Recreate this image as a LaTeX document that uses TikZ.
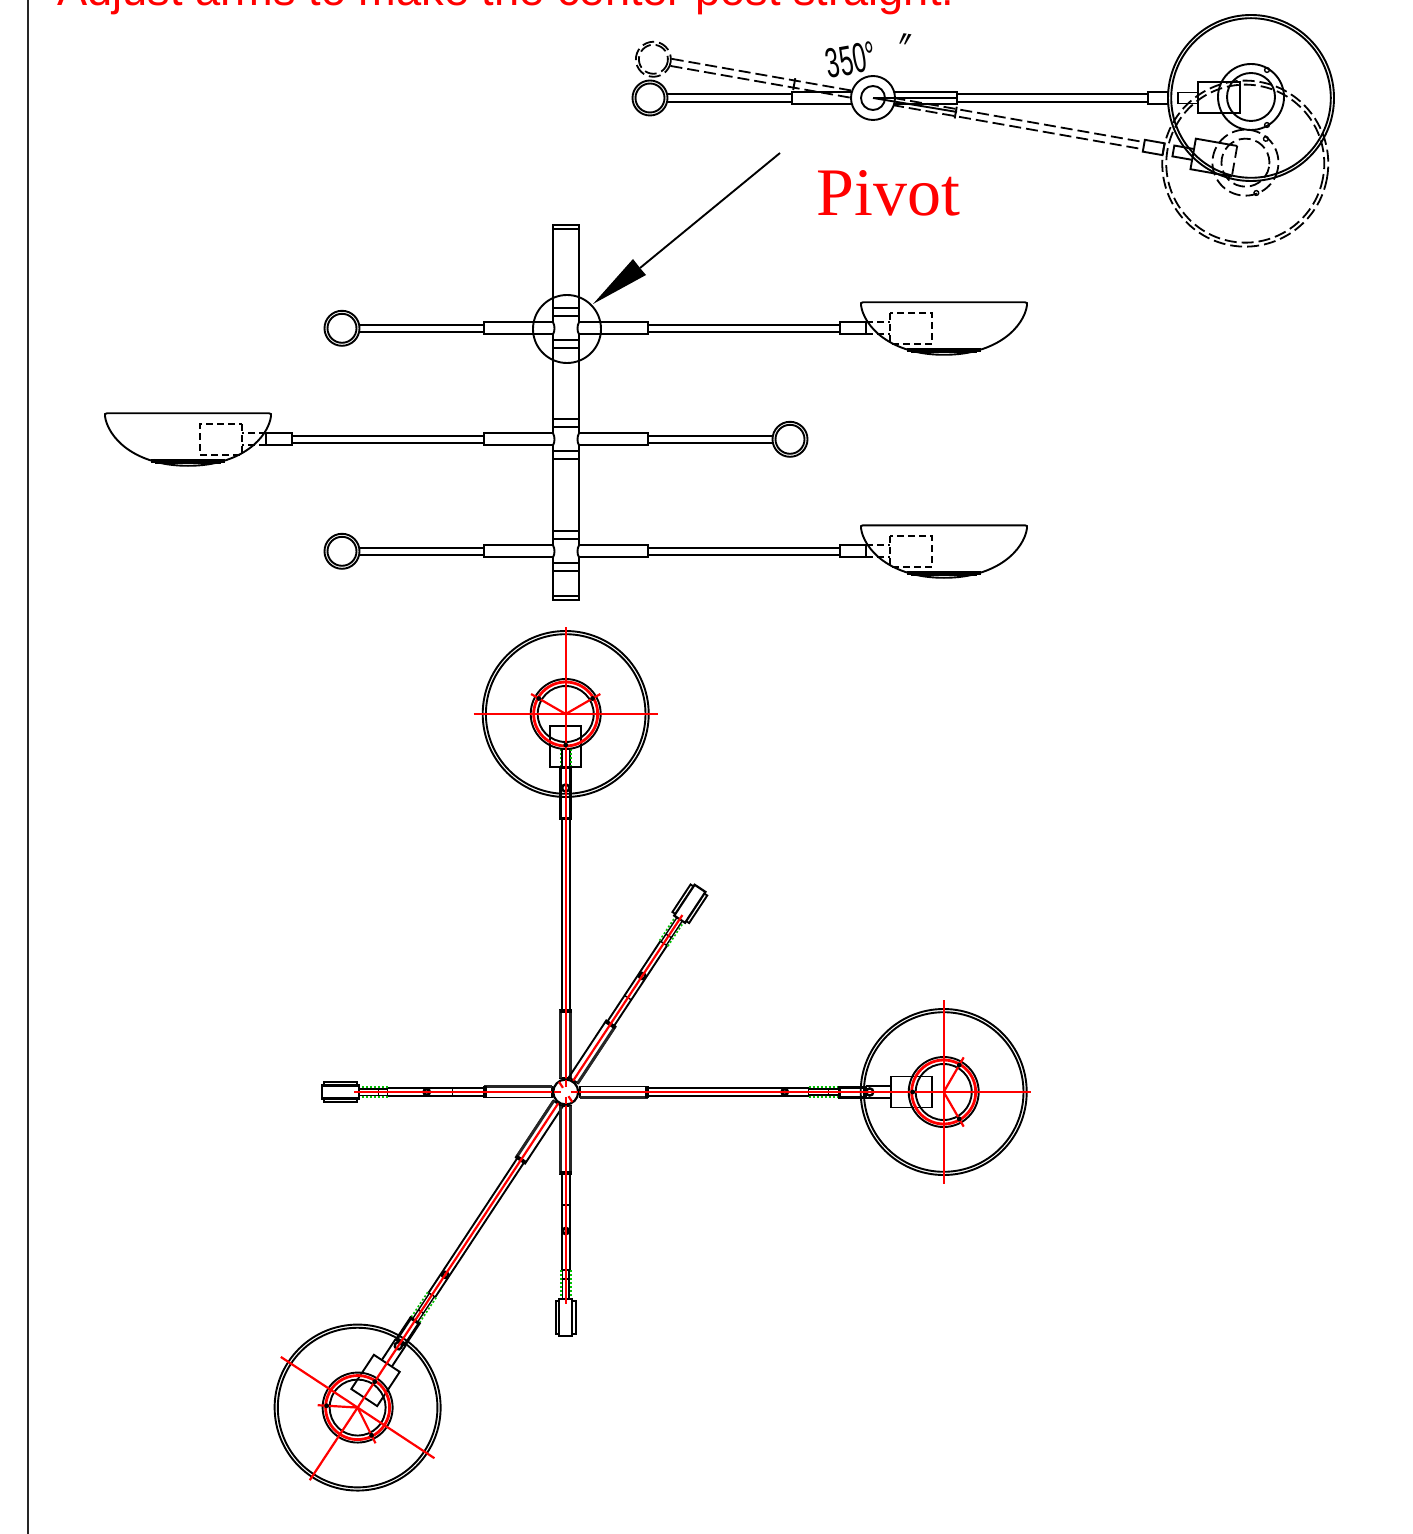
\documentclass[tikz,border=0pt]{standalone}
\usepackage{graphicx}
\usepackage{fontspec}
\setmainfont{Liberation Sans}
\newfontfamily\serifred{Liberation Serif}
\newfontfamily\dejav{DejaVu Sans}
\definecolor{grn}{RGB}{0,190,0}
\tikzset{
  ln/.style={line width=.95pt,black},
  thn/.style={line width=.7pt,black},
  hv/.style={line width=1.3pt,black},
  vhv/.style={line width=1.8pt,black},
  rd/.style={line width=1.1pt,red},
  gr/.style={line width=.8pt,grn,dash pattern=on 1pt off 1pt},
  dsh/.style={line width=.9pt,black,dash pattern=on 6pt off 2.5pt},
  dsb/.style={line width=.95pt,black,dash pattern=on 3.5pt off 2pt},
}
% ---- front view arm (origin at post axis)
\newcommand{\frontarm}{%
  \draw[ln] (-224,0) circle (17.5) (-224,0) circle (14.5);
  \draw[ln] (-206,-3.6) -- (-82,-3.6) (-206,3.6) -- (-82,3.6);
  \draw[ln] (-13,-6) -- (-82,-6) -- (-82,6) -- (-13,6);
  \draw[ln] (13,-6) -- (82,-6) -- (82,6) -- (13,6);
  \draw[ln] (82,-3.6) -- (274,-3.6) (82,3.6) -- (274,3.6);
  \draw[ln] (274,-6) rectangle (300,6);
  \draw[ln] (297,-26) -- (459,-26) .. controls (461,-26) and (461.5,-25) .. (461,-23)
     .. controls (458,-2) and (432,26.5) .. (378,26.5)
     .. controls (324,26.5) and (298,-2) .. (295,-23)
     .. controls (294.5,-25) and (295,-26) .. (297,-26) -- cycle;
  \draw[dsb] (300,-6) -- (324,-6) (300,6) -- (324,6);
  \draw[dsb] (324,-15.5) rectangle (366,15.5);
  \draw[line width=2.4pt] (345,22.5) -- (411,22.5);
  \draw[line width=1.6pt] (343,19.5) -- (343,24) (413,19.5) -- (413,24);
  \draw[ln] (-13,-12) -- (13,-12) (-13,-20) -- (13,-20) (-13,12) -- (13,12) (-13,20) -- (13,20);
  \draw[white,line width=1.3pt] (-13,-5) -- (-13,5) (13,-5) -- (13,5);
  \draw[ln] (-13,-6) .. controls (-11,-3) and (-11,3) .. (-13,6);
  \draw[ln] (13,-6) .. controls (11,-3) and (11,3) .. (13,6);
}
% ---- plan view: sleeve at the hub; #1=1 both sides thick
\newcommand{\hubsleeve}[1]{%
  \draw[ln] (14,-5.5) rectangle (82,5.5);
  \draw[line width=1.5pt,black!85] (14,5.2) -- (82,5.2);
  \ifnum#1=1 \draw[line width=1.5pt,black!85] (14,-5.2) -- (82,-5.2); \fi
  \draw[vhv] (81,-6) -- (81,6);
}
% ---- lamp head at the end of a long arm
\newcommand{\lamphead}{%
  \draw[ln] (325,-15.5) rectangle (366,15.5);
  \draw[ln] (378,0) circle (83) (378,0) circle (79.8);
  \draw[ln] (378,0) circle (35) (378,0) circle (28);
  \draw[line width=1.4pt,red] (378,0) circle (32);
  \draw[rd] (5,0) -- (465,0);
  \draw[rd] (378,-92) -- (378,92);
  \draw[rd] (378,0) -- ++(60:40) (378,0) -- ++(-60:40);
  \fill (378,0) ++(60:31) circle (2.4) (378,0) ++(-60:31) circle (2.4) (347,0) circle (2.4);
}
% ---- plan view: long arm with hole and thread
\newcommand{\longarm}{%
  \hubsleeve{0}
  \draw[ln] (82,-4) -- (243,-4) (82,4) -- (243,4);
  \draw[line width=1.4pt] (219,0) circle (3);
  \draw[gr] (243,-5) -- (274,-5) (243,5) -- (274,5);
  \draw[thn] (243,-3) -- (274,-3) (243,3) -- (274,3) (263,-3) -- (263,3) (243,-4) -- (243,4);
  \draw[line width=1.5pt] (274,-5) rectangle (300,5);
  \draw[ln] (300,-6) -- (325,-6) (300,6) -- (325,6);
  \draw[line width=1.2pt] (304,0) circle (3.6);
  \lamphead
}
% ---- plan view: plain long arm (upper lamp)
\newcommand{\plainarm}{%
  \hubsleeve{1}
  \draw[ln] (82,-4) -- (274,-4) (82,4) -- (274,4);
  \draw[line width=1.5pt] (274,-5) rectangle (325,5);
  \draw[line width=1.2pt] (304,0) circle (3.6);
  \draw[ln] (325,-4) -- (343,-4) (325,4) -- (343,4);
  \draw[gr] (325,-5.2) -- (343,-5.2) (325,5.2) -- (343,5.2);
  \lamphead
}
% ---- plan view: short arm with end cap
\newcommand{\shortarm}[1]{%
  \hubsleeve{#1}
  \draw[ln] (82,-4) -- (178,-4) (82,4) -- (178,4);
  \draw[thn] (113,-4) -- (113,4);
  \draw[line width=1.4pt] (139,0) circle (3);
  \draw[gr] (178,-5) -- (207,-5) (178,5) -- (207,5);
  \draw[thn] (178,-3.2) -- (207,-3.2) (178,3.2) -- (207,3.2) (178,-4) -- (178,4) (187,-3.2) -- (187,3.2);
  \draw[line width=1.1pt,fill=white] (207,-6.5) rectangle (244,6.5);
  \draw[ln] (209,6.5) -- (209,10) -- (242,10) -- (242,6.5) (209,-6.5) -- (209,-10) -- (242,-10) -- (242,-6.5);
  \draw[rd] (5,0) -- (212,0);
}
% ---- top view: swivelling arm blocks
\newcommand{\swivelcommon}{%
  \draw[ln] (1148,92) rectangle (1168,104);
  \draw[ln] (1197,92.5) -- (1178,92.5) -- (1178,103.5) -- (1197,103.5);
}
\begin{document}
\begin{tikzpicture}[x=.5pt,y=-.5pt]
\useasboundingbox (0,0) rectangle (1412,1534);
\clip (0,0) rectangle (1412,1534);
\fill[white] (0,0) rectangle (1412,1534);
\coordinate (lt) at (28,0); \coordinate (lb) at (28,1534);
\draw[line width=.8pt,black!85] (lt) -- (lb);
\node[anchor=base west,inner sep=0,text=red,font=\fontsize{22.6}{27}\selectfont] (title) at (57,5.5) {Adjust arms to make the center post straight.};
\node[anchor=base west,inner sep=0,text=red,font=\serifred\fontsize{34}{40}\selectfont] (pivot) at (816,216) {Pivot};
\node[inner sep=0,rotate=10,font=\fontsize{21}{24}\selectfont] (ang) at (851,60) {\scalebox{.58}[1]{350°}};
\node[inner sep=0,rotate=-8,font=\dejav\fontsize{30}{34}\selectfont] (mark) at (904,56) {\scalebox{.55}[1]{″}};
% top view, solid position
\draw[ln] (650,98) circle (17.5) (650,98) circle (14.5);
\draw[ln] (668,94.4) -- (792,94.4) (668,101.6) -- (792,101.6);
\draw[ln] (855,92) -- (792,92) -- (792,104) -- (855,104);
\draw[ln] (885,92) -- (957,92) -- (957,104) -- (885,104);
\draw[ln] (957,94.4) -- (1148,94.4) (957,101.6) -- (1148,101.6);
\swivelcommon
\draw[ln] (1198,82) rectangle (1240,113);
\draw[ln] (1251,98) circle (83) (1251,98) circle (79.8);
\draw[ln] (1251,97) circle (33) (1251,97) circle (24);
\draw[thn] (1267,70) circle (2.4) (1267,125) circle (2.4);
% top view, dashed position
\begin{scope}[rotate around={-10:(873,98)}]
  \draw[dsh] (650,98) circle (17.5) (650,98) circle (14.5);
  \draw[dsh] (668,94.4) -- (852,94.4) (668,101.6) -- (852,101.6);
  \draw[ln] (793,92) -- (793,104);
  \draw[dsh] (893,94.4) -- (1148,94.4) (893,101.6) -- (1148,101.6);
  \draw[ln] (957,92) -- (957,104);
  \swivelcommon
  \draw[ln] (1240,82) -- (1198,82) -- (1198,113) -- (1240,113);
  \draw[dsh] (1240,82) -- (1240,113);
  \draw[dsh] (1251,98) circle (83) (1251,98) circle (79);
  \draw[dsh] (1251,97) circle (33) (1251,97) circle (24);
  \draw[thn] (1267,70) circle (2.4) (1267,125) circle (2.4);
\end{scope}
% pivot hub of the top view
\draw[ln,fill=white] (873,98) circle (22);
\draw[ln,fill=white] (873,98) circle (12);
\draw[ln] (873,98) -- (957,98);
\draw[ln] (873,98) -- (957,112);
% front view
\draw[ln] (553,225) rectangle (579,600);
\draw[ln] (553,229) -- (579,229);
\draw[ln] (553,596) -- (579,596);
\begin{scope}[shift={(566,328.3)}] \frontarm \end{scope}
\begin{scope}[shift={(566,439.3)},xscale=-1] \frontarm \end{scope}
\begin{scope}[shift={(566,551.3)}] \frontarm \end{scope}
\draw[ln] (567,329) circle (34);
\coordinate (arrowstart) at (780,153);
\coordinate (arrowbase) at (640,268);
\coordinate (arrowtip) at (593,304);
\draw[ln] (arrowstart) -- (arrowbase);
\fill (arrowtip) -- (633,259) -- (640,268) -- (646,275) -- cycle;
% plan view
\begin{scope}[shift={(565.7,1092)}]
  \begin{scope}[rotate=90]     \plainarm \end{scope}
  \begin{scope}[rotate=0]      \longarm \end{scope}
  \begin{scope}[rotate=236.6]  \longarm \end{scope}
  \begin{scope}[rotate=180]    \shortarm{0} \end{scope}
  \begin{scope}[rotate=270]    \shortarm{1} \end{scope}
  \begin{scope}[rotate=56.6]   \shortarm{0} \end{scope}
  \draw[line width=1.1pt,fill=white] (0,0) circle (12.5);
  \foreach \a in {0,56.6,90,180,236.6,270} \draw[rd] (\a:5) -- (\a:12);
\end{scope}
\end{tikzpicture}
\end{document}
